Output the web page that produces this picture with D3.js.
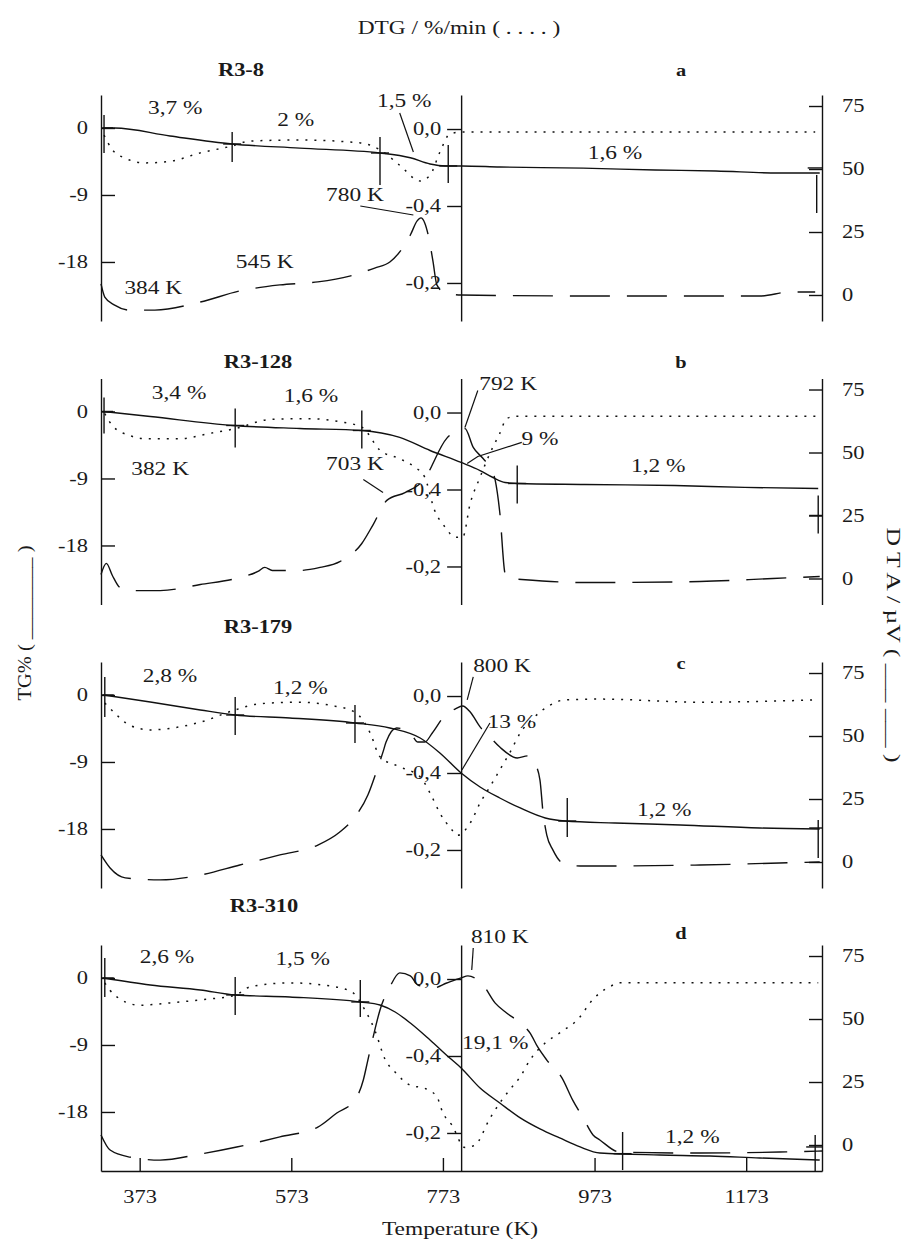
<!DOCTYPE html>
<html><head><meta charset="utf-8">
<script src="https://cdn.jsdelivr.net/npm/d3@7/dist/d3.min.js"></script>
<style>
html,body{margin:0;padding:0;background:#fff;}
svg{display:block;}
text{font-family:"Liberation Serif","Times New Roman",serif;fill:#1a1a1a;}
</style></head>
<body><svg id="c" width="902" height="1240"></svg>
<script>
// ---------- DATA (temperature K, value) ----------
const xTicks = [373, 573, 773, 973, 1173];
const tgTicks = [0, -9, -18];
const dtgTicks = [0, -0.1, -0.2];
const dtgTickLabels = ["0,0", "-0,4", "-0,2"];
const dtaTicks = [0, 25, 50, 75];
const titles = ["R3-8", "R3-128", "R3-179", "R3-310"];
const letters = ["a", "b", "c", "d"];

// TG (%)
const tgA = [[325,0],[340,0],[413,-1.07],[495,-2.15],[584,-2.7],[690,-3.36],[730,-4.0],[756,-4.84],[776,-5.1],[798,-5.1],[848,-5.24],[958,-5.4],[1053,-5.64],[1133,-5.78],[1215,-6.05],[1270,-6.05]];
const tgB = [[325,0],[387,-0.67],[496,-1.88],[584,-2.28],[666,-2.55],[716,-3.49],[756,-5.24],[797,-6.85],[822,-7.93],[839,-8.87],[855,-9.54],[871,-9.67],[960,-9.8],[1079,-9.94],[1171,-10.2],[1268,-10.34]];
const tgC = [[325,0],[387,-0.94],[453,-2.01],[499,-2.69],[571,-3.09],[657,-3.76],[703,-4.43],[743,-5.78],[769,-7.79],[797,-10.48],[822,-12.36],[848,-13.84],[875,-15.18],[908,-16.52],[934,-16.93],[1000,-17.2],[1086,-17.46],[1191,-17.87],[1270,-18.0]];
const tgD = [[325,0],[387,-0.94],[453,-1.61],[499,-2.28],[571,-2.55],[664,-3.22],[690,-3.63],[710,-4.57],[730,-6.05],[756,-8.33],[782,-10.75],[797,-12.09],[822,-14.78],[848,-16.79],[875,-18.8],[901,-20.28],[927,-21.49],[954,-22.7],[980,-23.51],[1059,-23.78],[1125,-23.91],[1191,-24.18],[1270,-24.45]];

// DTG (%/min)
const dtgA = [[326,-0.008],[337,-0.027],[354,-0.038],[380,-0.044],[413,-0.042],[453,-0.031],[495,-0.022],[519,-0.0156],[584,-0.0143],[664,-0.018],[690,-0.027],[716,-0.047],[743,-0.0675],[756,-0.06],[769,-0.030],[782,-0.0065],[798,-0.0039],[1264,-0.0039]];
const dtgB = [[327,-0.0013],[337,-0.017],[360,-0.030],[380,-0.034],[426,-0.034],[466,-0.027],[499,-0.021],[545,-0.009],[598,-0.008],[637,-0.012],[666,-0.019],[690,-0.049],[716,-0.060],[736,-0.071],[749,-0.084],[762,-0.127],[776,-0.149],[789,-0.162],[799,-0.162],[809,-0.118],[822,-0.084],[835,-0.053],[848,-0.027],[857,-0.008],[868,-0.005],[1268,-0.005]];
const dtgC = [[327,-0.009],[340,-0.022],[360,-0.038],[387,-0.044],[413,-0.042],[453,-0.034],[499,-0.018],[532,-0.010],[584,-0.008],[624,-0.012],[657,-0.021],[677,-0.048],[690,-0.079],[716,-0.092],[743,-0.105],[756,-0.126],[769,-0.152],[785,-0.174],[792,-0.181],[809,-0.165],[822,-0.139],[835,-0.118],[848,-0.096],[861,-0.074],[875,-0.048],[894,-0.027],[914,-0.012],[934,-0.005],[980,-0.004],[1112,-0.008],[1268,-0.005]];
const dtgD = [[327,-0.005],[340,-0.021],[373,-0.034],[413,-0.031],[453,-0.027],[499,-0.021],[519,-0.010],[571,-0.005],[624,-0.009],[653,-0.017],[670,-0.040],[683,-0.066],[697,-0.105],[710,-0.121],[730,-0.138],[749,-0.142],[765,-0.153],[773,-0.174],[785,-0.190],[802,-0.219],[815,-0.216],[835,-0.181],[848,-0.161],[861,-0.144],[875,-0.127],[888,-0.105],[908,-0.083],[927,-0.070],[954,-0.049],[967,-0.031],[980,-0.018],[993,-0.010],[1006,-0.005],[1268,-0.005]];

// DTA (µV)
const dtaA = [[322,4.4],[327,-0.8],[340,-4.0],[360,-6.0],[393,-6.0],[453,-2.8],[505,1.6],[558,4.0],[608,5.2],[650,7.5],[683,10.7],[703,13.1],[716,17.1],[730,23.8],[739,29.4],[744,30.6],[749,28.6],[755,21.8],[760,13.1],[765,4.0],[776,0.8],[797,0],[980,-0.4],[1191,-0.4],[1231,1.2],[1264,1.2]];
const dtaB = [[322,1.6],[329,6.0],[337,1.2],[347,-3.6],[360,-4.8],[400,-4.8],[453,-2.4],[505,0.4],[529,2.8],[538,4.4],[548,3.2],[584,3.2],[611,4.4],[637,6.7],[666,13.9],[681,21.4],[699,31.0],[723,34.1],[747,38.9],[778,55.6],[802,59.5],[813,52],[826,47.6],[835,44],[842,38.9],[848,26.2],[855,2.0],[861,0],[877,-0.4],[958,-1.6],[1112,-1.2],[1208,0],[1270,0.8]];
const dtaC = [[322,2.8],[334,-2.4],[354,-6.3],[400,-7.1],[453,-5.2],[505,-1.2],[558,2.8],[608,6.7],[637,11.9],[657,17.9],[674,26.6],[686,36.5],[694,43.7],[698,47.6],[712,53.2],[730,51.2],[740,47.6],[749,47.6],[759,51.2],[776,58.3],[789,60.7],[799,61.9],[809,59.5],[822,53.6],[835,49.6],[848,45.6],[871,41.3],[885,42.1],[894,39.3],[901,32.5],[905,19.8],[910,10.7],[918,4.8],[931,-0.4],[954,-1.6],[1112,-1.2],[1217,-0.4],[1270,0]];
const dtaD = [[322,4.0],[334,-2.0],[360,-4.8],[400,-6.0],[453,-3.6],[501,-0.8],[558,3.2],[608,7.1],[633,12.7],[657,17.9],[668,25.8],[674,33.7],[681,42.9],[690,53.6],[703,62.7],[716,68.3],[730,67.1],[740,63.5],[760,62.3],[778,64.3],[797,66.3],[806,67.1],[815,66.3],[825,63.9],[842,56.3],[857,52.4],[875,48.4],[888,44.4],[898,38.9],[910,33.7],[930,26.6],[944,17.9],[958,10.7],[971,4.0],[980,2.0],[1006,-2.8],[1112,-3.2],[1217,-2.8],[1273,-2.4]];

// annotations: [text, T, TG value]
const labelsA = [["3,7 %",420,2.69],["2 %",579,1.07],["1,5 %",722,3.63],["780 K",657,-9.0],["545 K",538,-18.0],["384 K",391,-21.5],["1,6 %",1000,-3.36]];
const labelsB = [["3,4 %",425,2.55],["1,6 %",599,2.15],["382 K",400,-7.66],["703 K",657,-6.99],["792 K",859,3.76],["9 %",901,-3.63],["1,2 %",1057,-7.25]];
const labelsC = [["2,8 %",413,2.55],["1,2 %",585,0.94],["800 K",851,3.9],["13 %",864,-3.63],["1,2 %",1065,-15.45]];
const labelsD = [["2,6 %",409,2.82],["1,5 %",588,2.55],["810 K",848,5.51],["19,1 %",842,-8.73],["1,2 %",1102,-21.36]];

// leader lines: lists of [T, TG value]
const leadersA = [[[716,2.01],[734,-3.22]],[[664,-10.48],[734,-11.69]]];
const leadersB = [[[668,-9.13],[694,-10.88]],[[819,2.82],[802,-2.15]],[[877,-4.16],[819,-6.05],[805,-6.99]]];
const leadersC = [[[813,2.42],[805,-0.67]],[[835,-3.76],[798,-10.08]]];
const leadersD = [[[813,4.03],[811,1.07]]];

// step markers on TG: [T, top TG, bottom TG, TG of cross bar]
const marksA = [[326,1.75,-3.36,0],[495,-0.54,-4.57,-2.15],[690,-1.21,-7.66,-3.36],[780,-2.28,-7.39,-5.1],[1266,-6.31,-11.42,-5.37]];
const marksB = [[326,1.88,-2.96,0],[499,0.4,-4.84,-1.88],[666,0.13,-4.97,-2.55],[871,-7.25,-12.36,-9.67],[1268,-11.28,-16.39,-13.97]];
const marksC = [[327,2.42,-2.96,0],[499,-0.27,-5.37,-2.69],[657,-1.34,-6.45,-3.76],[937,-13.84,-19.08,-16.93],[1268,-16.79,-21.9,-17.87]];
const marksD = [[327,2.69,-2.55,0],[499,0.13,-4.97,-2.28],[664,-0.27,-5.24,-3.22],[1010,-20.69,-25.8,-23.6],[1264,-21.09,-26.06,-22.7]];

// ---------- LAYOUT ----------
const svg = d3.select("#c");
svg.append("rect").attr("width",902).attr("height",1240).attr("fill","#fff");
const L = 101, R = 822, PH = 226;
const panelTops = [95, 378.5, 662, 945];
const titleY = [70, 362, 627, 906];
const titleX = [241, 258, 258, 264];
const letterY = [70, 362, 663, 933];
const dtgAxisT = 797;
const SX = 1.3, SXT = 1.25;

const x = d3.scaleLinear().domain([322, 1273]).range([L, R]);

const panels = [
  {tg:tgA, dtg:dtgA, dta:dtaA, labels:labelsA, leaders:leadersA, marks:marksA},
  {tg:tgB, dtg:dtgB, dta:dtaB, labels:labelsB, leaders:leadersB, marks:marksB},
  {tg:tgC, dtg:dtgC, dta:dtaC, labels:labelsC, leaders:leadersC, marks:marksC},
  {tg:tgD, dtg:dtgD, dta:dtaD, labels:labelsD, leaders:leadersD, marks:marksD}
];

function label(g, px, py, s, o = {}) {
  const size = o.size || 18, sx = o.sx || SX;
  g.append("text")
    .attr("transform", `translate(${px},${py}) scale(${sx},1)`)
    .attr("text-anchor", o.anchor || "middle")
    .attr("dy", "0.35em")
    .style("font-size", size + "px")
    .style("font-weight", o.weight || "normal")
    .text(s);
}
function styleAxis(g) {
  g.attr("font-family", null).attr("font-size", null);
  g.selectAll("path,line").attr("stroke", "#111").attr("stroke-width", 1.4);
  g.selectAll("text").style("font-size", "18px").attr("fill", "#1a1a1a").each(function () {
    const t = d3.select(this);
    const tx = +t.attr("x") || 0;
    t.attr("x", tx / SXT).attr("transform", `scale(${SXT},1)`);
  });
}
const plain = d => String(d);

// top label
label(svg, 459, 28, "DTG / %/min ( . . . . )");

panels.forEach((p, i) => {
  const top = panelTops[i];
  const g = svg.append("g");
  const yTG = d3.scaleLinear().domain([4.43, -25.93]).range([top, top + PH]);
  const yDTG = d3.scaleLinear().domain([0.0442, -0.2494]).range([top, top + PH]);
  const yDTA = d3.scaleLinear().domain([79.37, -10.32]).range([top, top + PH]);

  // axes
  const aL = g.append("g").attr("transform", `translate(${L},0)`)
    .call(d3.axisLeft(yTG).tickValues(tgTicks).tickFormat(plain).tickSizeInner(-14).tickSizeOuter(0).tickPadding(13));
  styleAxis(aL);
  const aM = g.append("g").attr("transform", `translate(${x(dtgAxisT)},0)`)
    .call(d3.axisLeft(yDTG).tickValues(dtgTicks).tickFormat((d, k) => dtgTickLabels[k]).tickSizeInner(14).tickSizeOuter(0).tickPadding(6));
  styleAxis(aM);
  const aR = g.append("g").attr("transform", `translate(${R},0)`)
    .call(d3.axisRight(yDTA).tickValues(dtaTicks).tickFormat(plain).tickSizeInner(-13).tickSizeOuter(0).tickPadding(20));
  styleAxis(aR);
  if (i === 3) {
    const aB = g.append("g").attr("transform", `translate(0,${top + PH})`)
      .call(d3.axisBottom(x).tickValues(xTicks).tickFormat(plain).tickSizeInner(-13).tickSizeOuter(0).tickPadding(19));
    styleAxis(aB);
  }

  // curves
  const lineTG = d3.line().x(d => x(d[0])).y(d => yTG(d[1])).curve(d3.curveMonotoneX);
  const lineDTG = d3.line().x(d => x(d[0])).y(d => yDTG(d[1])).curve(d3.curveMonotoneX);
  const lineDTA = d3.line().x(d => x(d[0])).y(d => yDTA(d[1])).curve(d3.curveMonotoneX);
  g.append("path").attr("d", lineDTG(p.dtg)).attr("fill", "none").attr("stroke", "#111")
    .attr("stroke-width", 1.5).attr("stroke-dasharray", "2,7");
  g.append("path").attr("d", lineDTA(p.dta)).attr("fill", "none").attr("stroke", "#111")
    .attr("stroke-width", 1.4).attr("stroke-dasharray", "40,17");
  g.append("path").attr("d", lineTG(p.tg)).attr("fill", "none").attr("stroke", "#111")
    .attr("stroke-width", 1.4);

  // step markers
  p.marks.forEach(m => {
    g.append("line").attr("x1", x(m[0])).attr("x2", x(m[0])).attr("y1", yTG(m[1])).attr("y2", yTG(m[2]))
      .attr("stroke", "#111").attr("stroke-width", 1.4);
    g.append("line").attr("x1", Math.max(L, x(m[0]) - 9)).attr("x2", Math.min(R, x(m[0]) + 9))
      .attr("y1", yTG(m[3])).attr("y2", yTG(m[3])).attr("stroke", "#111").attr("stroke-width", 1.4);
  });

  // leaders
  const lineLead = d3.line().x(d => x(d[0])).y(d => yTG(d[1]));
  p.leaders.forEach(l => {
    g.append("path").attr("d", lineLead(l)).attr("fill", "none").attr("stroke", "#111").attr("stroke-width", 1.2);
  });

  // annotations
  p.labels.forEach(a => label(g, x(a[1]), yTG(a[2]), a[0]));

  // titles
  label(g, titleX[i], titleY[i], titles[i], {weight: "bold", size: 18, sx: 1.25});
  label(g, 681, letterY[i], letters[i], {weight: "bold", size: 17, sx: 1.2});
});

// bottom title
label(svg, 460, 1229, "Temperature (K)");

// vertical axis titles
svg.append("text").attr("transform", "translate(25,623) rotate(-90)")
  .attr("text-anchor", "middle").attr("dy", "0.35em").style("font-size", "18px")
  .attr("fill", "#1a1a1a").attr("textLength", 155).attr("lengthAdjust", "spacingAndGlyphs")
  .text("TG% ( ________ )");
svg.append("text").attr("transform", "translate(893,645) rotate(90)")
  .attr("text-anchor", "middle").attr("dy", "0.35em").style("font-size", "18px")
  .attr("fill", "#1a1a1a").attr("textLength", 235).attr("lengthAdjust", "spacingAndGlyphs")
  .text("D T A / µV ( ___ ___ )");
</script></body></html>
